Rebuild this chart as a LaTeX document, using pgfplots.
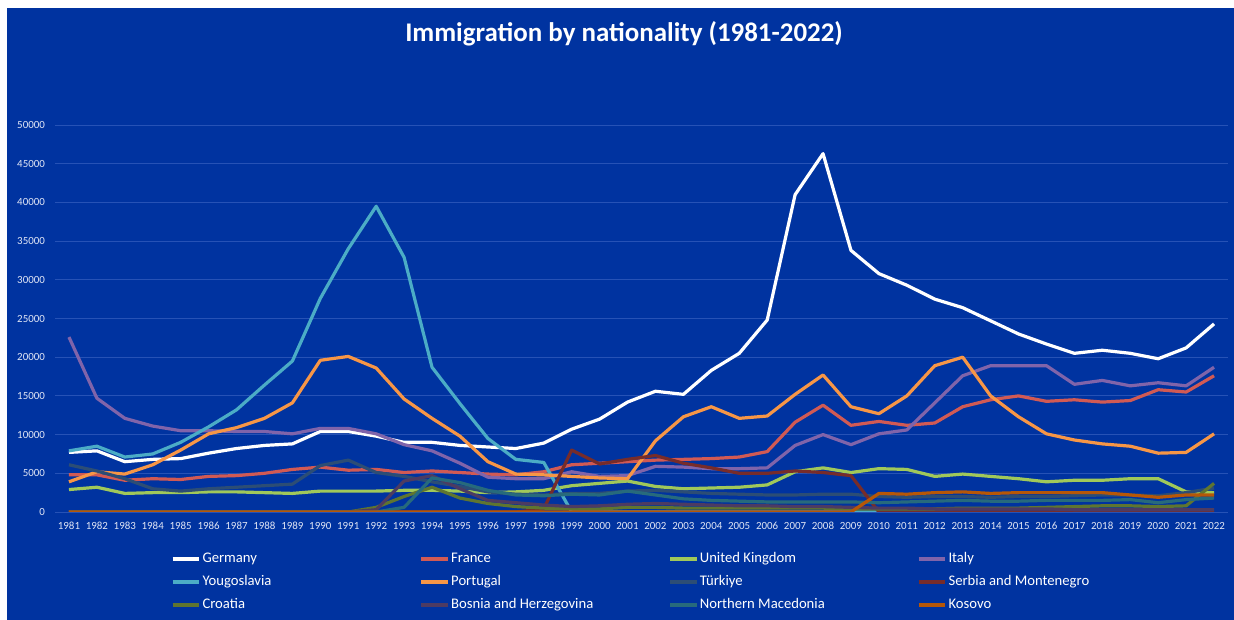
\documentclass[border=0pt]{standalone}
\usepackage{pgfplots}
\pgfplotsset{compat=1.18}
\usepackage{pgfplotstable}
\usepackage{fontspec}
\setmainfont{Carlito}

\definecolor{bg}{RGB}{0,51,160}
\definecolor{gridc}{RGB}{38,82,182}
\definecolor{tickc}{RGB}{225,230,245}
\definecolor{cGER}{RGB}{255,255,255}
\definecolor{cFRA}{RGB}{209,90,84}
\definecolor{cGBR}{RGB}{160,200,90}
\definecolor{cITA}{RGB}{128,100,170}
\definecolor{cYUG}{RGB}{75,172,198}
\definecolor{cPOR}{RGB}{247,150,70}
\definecolor{cTUR}{RGB}{44,77,117}
\definecolor{cSRB}{RGB}{119,44,42}
\definecolor{cCRO}{RGB}{95,117,48}
\definecolor{cBIH}{RGB}{77,59,98}
\definecolor{cMKD}{RGB}{39,106,124}
\definecolor{cKOS}{RGB}{182,87,8}

\pgfplotstableread{
year GER FRA GBR ITA YUG POR TUR SRB CRO BIH MKD KOS
1981 7700 4800 2900 22600 7900 3900 6100 0 0 0 0 0
1982 7900 4800 3200 14700 8500 5200 5300 0 0 0 0 0
1983 6500 4100 2400 12100 7100 4900 4300 0 0 0 0 0
1984 6800 4300 2500 11100 7500 6100 3000 0 0 0 0 0
1985 6900 4200 2500 10500 9000 8000 2700 0 0 0 0 0
1986 7600 4600 2600 10500 11000 10100 3000 0 0 0 0 0
1987 8200 4700 2600 10400 13200 10900 3200 0 0 0 0 0
1988 8600 5000 2500 10400 16400 12100 3400 0 0 0 0 0
1989 8800 5500 2400 10100 19500 14100 3600 0 0 0 0 0
1990 10400 5800 2700 10800 27600 19600 6000 0 0 0 0 0
1991 10400 5400 2700 10800 34000 20100 6700 0 0 0 0 0
1992 9800 5500 2700 10100 39500 18600 5100 0 600 300 0 0
1993 9000 5100 2800 8700 32900 14600 4600 0 2000 4000 600 0
1994 9000 5300 2800 7900 18700 12100 3900 0 3200 4700 4400 0
1995 8600 5100 2700 6300 14000 9800 3300 0 1800 3000 3800 0
1996 8400 4900 2500 4500 9500 6500 2600 0 1100 1500 2800 0
1997 8200 4800 2600 4300 6800 4900 2300 0 700 1200 2200 0
1998 8900 5200 2800 4300 6400 4800 2200 400 500 900 2100 0
1999 10700 6100 3400 5200 0 4600 2400 8000 400 700 2300 0
2000 12000 6300 3700 4600 0 4400 2400 6200 400 800 2200 0
2001 14200 6500 4000 4700 0 4300 2700 6800 600 1000 2700 0
2002 15600 6700 3300 5900 0 9200 2800 7300 600 1100 2200 0
2003 15200 6800 3000 5800 0 12300 2600 6300 500 1000 1700 0
2004 18300 6900 3100 5600 0 13600 2400 5700 500 900 1500 0
2005 20500 7100 3200 5600 0 12100 2300 5000 500 800 1400 0
2006 24800 7800 3500 5700 0 12400 2200 5000 500 800 1300 0
2007 41000 11600 5200 8600 0 15200 2200 5300 500 700 1300 0
2008 46300 13800 5700 10000 0 17700 2300 5100 500 700 1300 0
2009 33800 11200 5100 8700 0 13600 2300 4700 400 600 1300 0
2010 30800 11700 5600 10100 0 12700 2000 0 400 500 1200 2400
2011 29300 11200 5500 10600 nan 15000 1900 0 400 500 1300 2300
2012 27500 11500 4600 14100 nan 18900 2000 0 400 400 1400 2500
2013 26400 13600 4900 17600 nan 20000 2000 0 500 400 1500 2600
2014 24700 14500 4600 18900 nan 15000 1900 0 500 400 1400 2400
2015 23000 15000 4300 18900 nan 12300 2000 0 500 400 1400 2500
2016 21700 14300 3900 18900 nan 10100 2000 0 600 400 1500 2500
2017 20500 14500 4100 16500 nan 9300 2100 0 700 300 1500 2500
2018 20900 14200 4100 17000 nan 8800 2200 0 800 300 1500 2500
2019 20500 14400 4300 16300 nan 8500 2200 0 800 300 1600 2200
2020 19800 15800 4300 16700 nan 7600 2100 0 700 300 1200 1900
2021 21200 15500 2600 16300 nan 7700 2500 0 800 300 1600 2200
2022 24300 17600 2500 18700 nan 10100 3100 0 3700 300 1800 2200
}\data

\begin{document}
\begin{tikzpicture}[x=0.75pt,y=0.75pt]
\path[use as bounding box] (0,0) rectangle (1234,620);
\fill[white] (0,0) rectangle (1234,620);
\fill[bg] (7,0) rectangle (1234,612);
\node[text=white, font=\fontsize{20.2}{24}\selectfont\bfseries] at (624,586.5) {Immigration by nationality (1981-2022)};
\begin{axis}[
  at={(41.25pt,81pt)}, anchor=south west,
  scale only axis, width=879.75pt, height=290.25pt,
  xmin=1980.5, xmax=2022.5, ymin=0, ymax=50000,
  xtick={1981,...,2022}, ytick={0,5000,...,50000},
  scaled y ticks=false, scaled x ticks=false,
  /pgf/number format/1000 sep={},
  /pgf/number format/assume math mode=true,
  ymajorgrids, grid style={gridc, line width=0.6pt},
  axis line style={draw=none}, major tick length=0pt,
  tick label style={font=\fontsize{8.2}{10}\selectfont, text=tickc},
  yticklabel style={xshift=-4pt},
  xticklabel style={yshift=-4.3pt},
  unbounded coords=jump,
  every axis plot/.append style={line width=2.4pt, line join=round, mark=none},
  legend columns=4,
  legend cell align=left,
  legend image code/.code={\draw[line width=3pt] (0pt,0pt) -- (20pt,0pt);},
  legend style={at={(axis description cs:0.0985,-0.1005)}, anchor=north west,
    draw=none, fill=none, inner sep=0pt, outer sep=0pt, text=white,
    font=\fontsize{11}{13}\selectfont, row sep=5pt,
    nodes={inner sep=1pt, text height=7.7pt, text depth=2.4pt},
    /tikz/every even column/.append style={column sep=0pt}},
]
\addplot[cGER] table[x=year,y=GER] {\data};
\addplot[cFRA] table[x=year,y=FRA] {\data};
\addplot[cGBR] table[x=year,y=GBR] {\data};
\addplot[cITA] table[x=year,y=ITA] {\data};
\addplot[cYUG] table[x=year,y=YUG] {\data};
\addplot[cPOR] table[x=year,y=POR] {\data};
\addplot[cTUR] table[x=year,y=TUR] {\data};
\addplot[cSRB] table[x=year,y=SRB] {\data};
\addplot[cCRO] table[x=year,y=CRO] {\data};
\addplot[cBIH] table[x=year,y=BIH] {\data};
\addplot[cMKD] table[x=year,y=MKD] {\data};
\addplot[cKOS] table[x=year,y=KOS] {\data};
\legend{\makebox[161.5pt][l]{Germany},\makebox[161.5pt][l]{France},\makebox[161.5pt][l]{United Kingdom},\makebox[161.5pt][l]{Italy},
\makebox[161.5pt][l]{Yougoslavia},\makebox[161.5pt][l]{Portugal},\makebox[161.5pt][l]{Türkiye},\makebox[161.5pt][l]{Serbia and Montenegro},
\makebox[161.5pt][l]{Croatia},\makebox[161.5pt][l]{Bosnia and Herzegovina},\makebox[161.5pt][l]{Northern Macedonia},\makebox[161.5pt][l]{Kosovo}}
\end{axis}
\end{tikzpicture}
\end{document}
